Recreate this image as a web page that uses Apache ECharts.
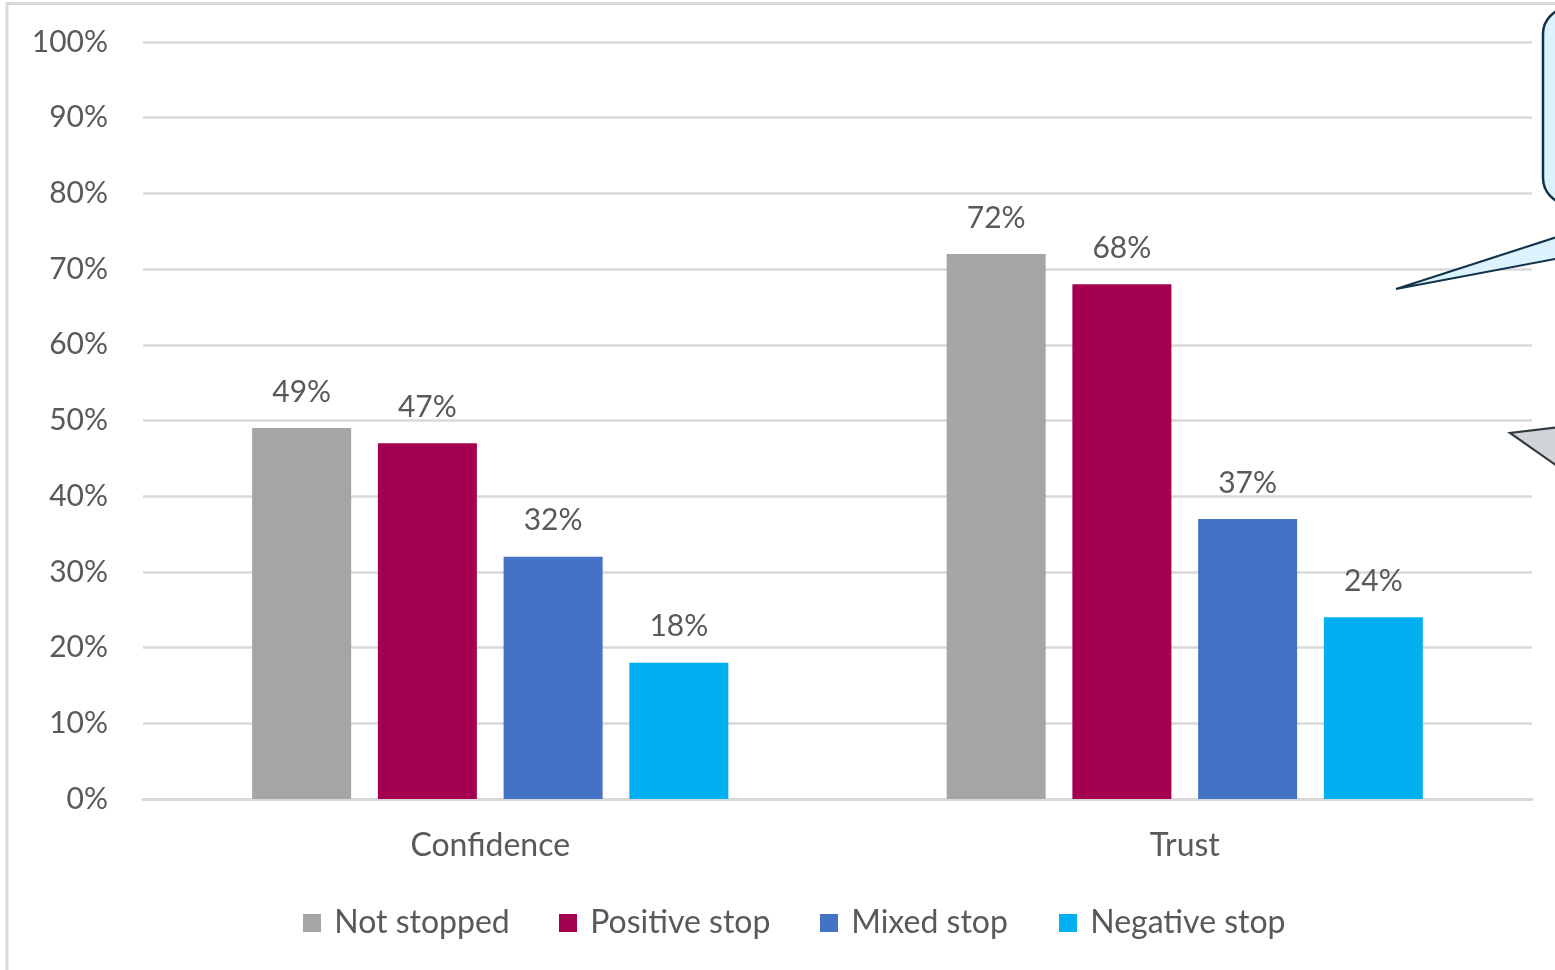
<!DOCTYPE html>
<html>
<head>
<meta charset="utf-8">
<title>Confidence and trust by stop outcome</title>
<script src="https://cdn.jsdelivr.net/npm/echarts@6/dist/echarts.min.js"></script>
<style>
  html, body { margin: 0; padding: 0; background: #ffffff; }
  #chart { width: 1555px; height: 970px; }
</style>
</head>
<body>
<div id="chart"></div>
<script>
// Categories and series values (percent)
const categories = ['Confidence', 'Trust'];
const seriesNames = ['Not stopped', 'Positive stop', 'Mixed stop', 'Negative stop'];
const notStopped = [49, 72];
const positiveStop = [47, 68];
const mixedStop = [32, 37];
const negativeStop = [18, 24];
const yTicks = [0, 10, 20, 30, 40, 50, 60, 70, 80, 90, 100];

const colors = ['#a5a5a5', '#a5004f', '#4472c4', '#00b0f0'];
const textColor = '#595959';
const fontFamily = 'Lato, "Open Sans", sans-serif';

const chart = echarts.init(document.getElementById('chart'), null, { renderer: 'canvas' });

const valueSets = [notStopped, positiveStop, mixedStop, negativeStop];

const series = valueSets.map((vals, i) => ({
  name: seriesNames[i],
  type: 'bar',
  data: vals,
  barWidth: 99,
  barGap: '27%',
  itemStyle: { color: colors[i] },
  label: {
    show: true,
    position: 'top',
    distance: 21,
    formatter: '{c}%',
    color: textColor,
    fontFamily: fontFamily,
    fontSize: 30
  }
}));

// one legend entry per series, each pinned to its own left offset
const legendLefts = [303, 559, 820, 1059];
const legends = seriesNames.map((name, i) => ({
  data: [name],
  left: legendLefts[i],
  top: 907,
  padding: 0,
  icon: 'rect',
  itemWidth: 18,
  itemHeight: 18,
  textStyle: { color: textColor, fontFamily: fontFamily, fontSize: 32 },
  formatter: ' {name}'
}));

chart.setOption({
  backgroundColor: '#ffffff',
  animation: false,
  color: colors,
  grid: { left: 143, right: 23, top: 42, bottom: 171, containLabel: false },
  xAxis: {
    type: 'category',
    data: categories,
    axisLine: { show: true, lineStyle: { color: '#d9d9d9', width: 3 } },
    axisTick: { show: false },
    axisLabel: { color: textColor, fontFamily: fontFamily, fontSize: 32, margin: 31 }
  },
  yAxis: {
    type: 'value',
    min: yTicks[0],
    max: yTicks[yTicks.length - 1],
    interval: 10,
    axisLine: { show: false },
    axisTick: { show: false },
    splitLine: { lineStyle: { color: '#d9d9d9', width: 2.5 } },
    axisLabel: { color: textColor, fontFamily: fontFamily, fontSize: 30, margin: 35, formatter: '{value}%' }
  },
  legend: legends,
  series: series,
  graphic: [
    // chart frame (left and top edges visible)
    {
      type: 'rect', silent: true, z: 100,
      shape: { x: 7, y: 3.5, width: 1600, height: 1000 },
      style: { fill: 'none', stroke: '#d9d9d9', lineWidth: 3 }
    },
    // callout box in the upper right corner
    {
      type: 'rect', silent: true, z: 101,
      shape: { x: 1543, y: 8, width: 80, height: 196, r: 26 },
      style: { fill: '#daf3fc', stroke: '#12324a', lineWidth: 2.5 }
    },
    // callout pointer
    {
      type: 'polygon', silent: true, z: 101,
      shape: { points: [[1560, 236], [1396, 289], [1560, 258]] },
      style: { fill: '#daf3fc', stroke: '#12324a', lineWidth: 2, lineJoin: 'miter' }
    },
    // second, grey callout pointer
    {
      type: 'polygon', silent: true, z: 101,
      shape: { points: [[1560, 427], [1510, 433], [1560, 468]] },
      style: { fill: '#d1d5d9', stroke: '#333b40', lineWidth: 2.2 }
    }
  ]
});
</script>
</body>
</html>
